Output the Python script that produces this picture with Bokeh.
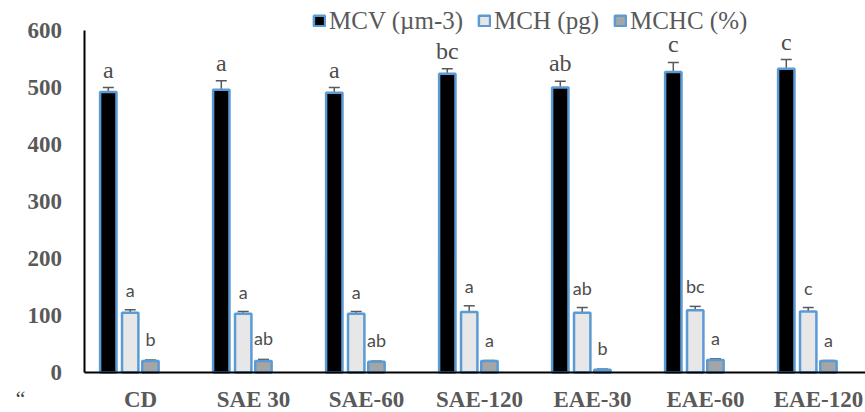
from bokeh.plotting import figure
from bokeh.models import (ColumnDataSource, Whisker, TeeHead, Legend, LegendItem,
                          FixedTicker, Range1d, Label)
from bokeh.transform import dodge
from bokeh.core.properties import value
from bokeh.embed import file_html
from bokeh.resources import INLINE

categories = ["CD", "SAE 30", "SAE-60", "SAE-120", "EAE-30", "EAE-60", "EAE-120"]
mcv = [492, 496, 491, 524, 500, 527, 533]
mcv_err = [8, 16, 9, 9, 11, 17, 16]
mch = [105, 103, 103, 106, 105, 109, 107]
mch_err = [5, 4, 4, 11, 9, 7, 7]
mchc = [20, 20, 19, 20, 5, 22, 20]
mchc_err = [2, 3, 1, 1, 1, 2, 1]
mcv_sig = ["a", "a", "a", "bc", "ab", "c", "c"]
mch_sig = ["a", "a", "a", "a", "ab", "bc", "c"]
mchc_sig = ["b", "ab", "ab", "a", "b", "a", "a"]
y_ticks = [0, 100, 200, 300, 400, 500, 600]

GRAY = "#595959"
BLUE = "#5B9BD5"
centers = [i + 0.5 for i in range(len(categories))]

W, H = 865, 412
px_x = 113.0            # pixels per category
px_y = 0.57             # pixels per value unit
ax_left = 83.5          # y axis position in canvas px
ax_bottom = 372.0       # x axis position in canvas px (from top)
top_px = 30.0           # where 600 sits

p = figure(width=W, height=H,
           x_range=Range1d(-ax_left / px_x, (W - ax_left) / px_x),
           y_range=Range1d(-(H - ax_bottom) / px_y, 600 + top_px / px_y),
           output_backend="svg", toolbar_location=None,
           min_border_left=0, min_border_right=0, min_border_top=0, min_border_bottom=0)
p.outline_line_color = None
p.xgrid.visible = False
p.ygrid.visible = False

series = [
    ("MCV (\u00b5m-3)", mcv, mcv_err, mcv_sig, -0.285, "black", "Liberation Serif", "24px", 18),
    ("MCH (pg)", mch, mch_err, mch_sig, -0.091, "#E7E7E7", "Lato", "18px", 20),
    ("MCHC (%)", mchc, mchc_err, mchc_sig, 0.088, "#A5A5A5", "Lato", "18px", 21),
]
items = []
for name, vals, errs, sig, off, col, font, fsize, gap in series:
    src = ColumnDataSource(dict(
        x=[c + off for c in centers], top=vals,
        upper=[v + e for v, e in zip(vals, errs)],
        lower=[v - e for v, e in zip(vals, errs)],
        sig=sig))
    r = p.vbar(x="x", top="top", width=0.145, source=src, fill_color=col,
               line_color=BLUE, line_width=2.5)
    w = Whisker(base="x", upper="upper", lower="lower", source=src,
                line_color=GRAY, line_width=1.5,
                upper_head=TeeHead(size=11, line_color=GRAY, line_width=1.5),
                lower_head=TeeHead(size=11, line_color=GRAY, line_width=1.5))
    p.add_layout(w)
    p.text(x="x", y=dodge("upper", gap / px_y, range=p.y_range), text="sig", source=src,
           text_align="center", text_baseline="alphabetic", text_font=value(font),
           text_font_size=fsize, text_color="#4D4D4D")
    items.append(LegendItem(label=name, renderers=[r]))

legend = Legend(items=items, orientation="horizontal", location=(312, H - 34.5),
                padding=0, margin=0, spacing=14, glyph_width=14, glyph_height=13,
                label_standoff=3, label_text_font="Liberation Serif",
                label_text_font_size="25px", label_text_color=GRAY,
                border_line_color=None, background_fill_alpha=0)
p.add_layout(legend)

for ax in (p.xaxis[0], p.yaxis[0]):
    ax.fixed_location = 0
    ax.axis_line_color = "black"
    ax.axis_line_width = 2
    ax.major_tick_line_color = None
    ax.minor_tick_line_color = None
    ax.major_label_text_font = "Liberation Serif"
    ax.major_label_text_font_style = "bold"
    ax.major_label_text_font_size = "23px"
    ax.major_label_text_color = GRAY

p.yaxis.bounds = (0, 600)
p.yaxis.ticker = FixedTicker(ticks=y_ticks)
p.yaxis.major_label_standoff = 16
p.xaxis.bounds = (0, (W - ax_left) / px_x)
p.xaxis.ticker = FixedTicker(ticks=centers)
p.xaxis.major_label_overrides = {c: lab for c, lab in zip(centers, categories)}
p.xaxis.major_label_standoff = 8

p.add_layout(Label(x=13, y=27, x_units="screen", y_units="screen", text="\u201c",
                   text_font="Liberation Serif", text_font_style="italic",
                   text_font_size="22px", text_color="#404040", text_baseline="top"))

open("out.html", "w").write(file_html(p, INLINE))
